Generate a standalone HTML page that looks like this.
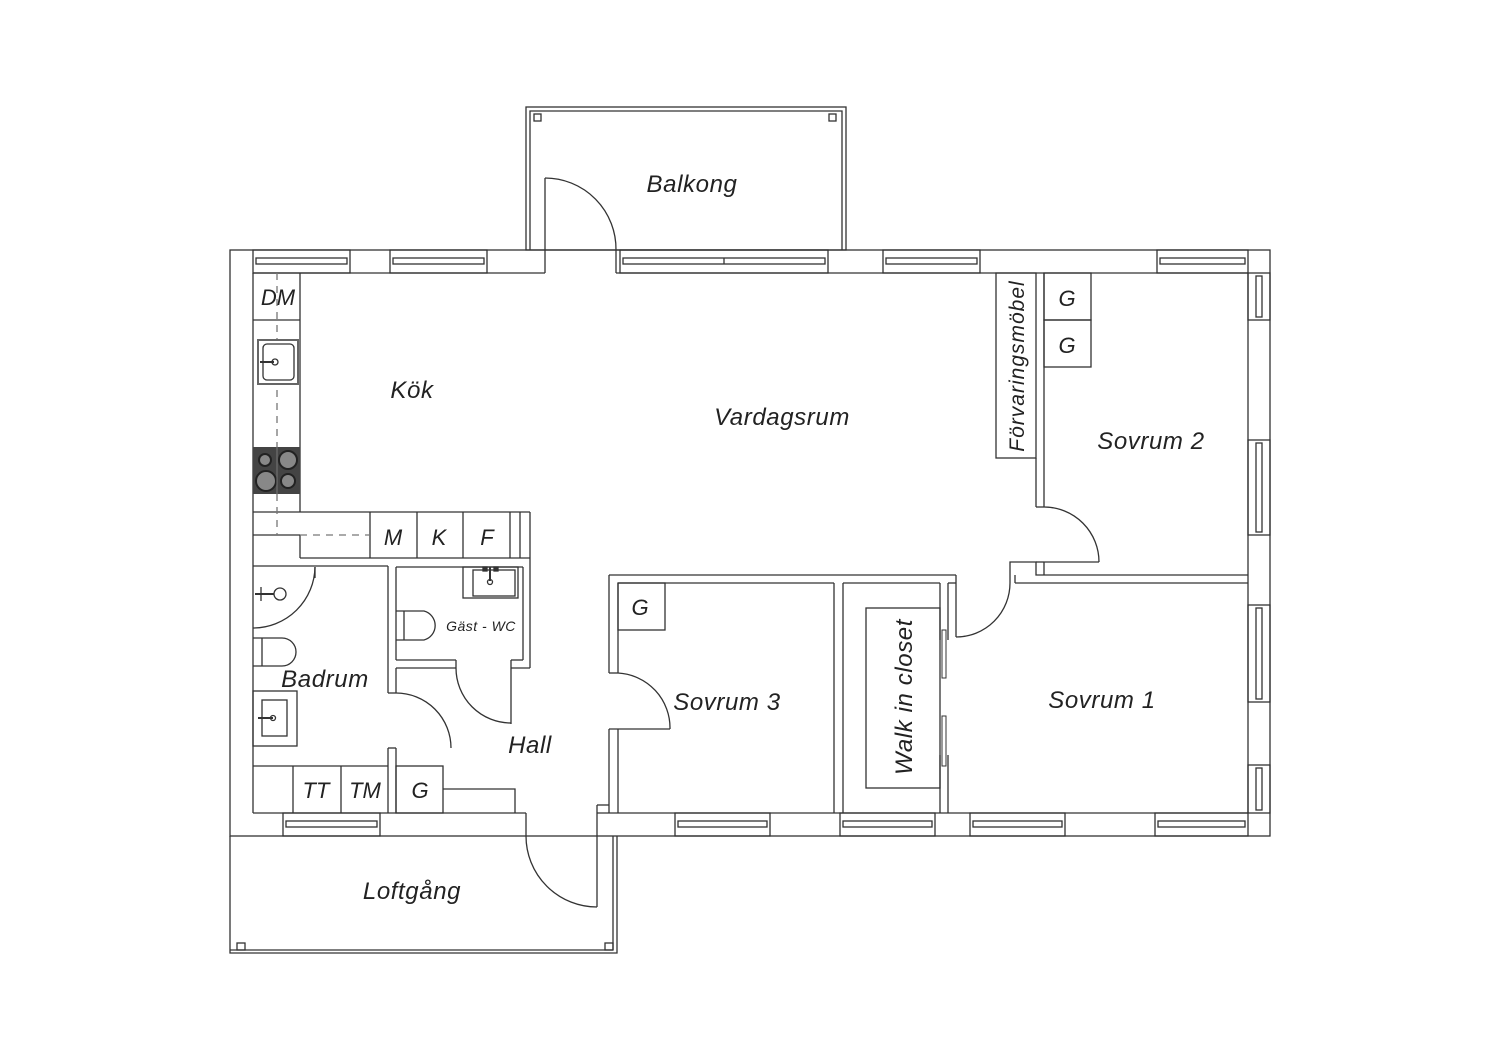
<!DOCTYPE html>
<html><head><meta charset="utf-8"><style>
html,body{margin:0;padding:0;background:#fff}
svg{display:block}
text{font-family:"Liberation Sans",sans-serif;font-style:italic;fill:#222}
</style></head><body>
<svg width="1500" height="1060" viewBox="0 0 1500 1060" xmlns="http://www.w3.org/2000/svg">
<g fill="none" stroke="#333" stroke-width="1.3">
<rect x="526" y="107" width="320" height="143"/>
<polyline points="530,250 530,111 842,111 842,250"/>
<rect x="534" y="114" width="7" height="7"/>
<rect x="829" y="114" width="7" height="7"/>
<rect x="230" y="250" width="1040" height="586"/>
<line x1="253" y1="273" x2="545" y2="273"/>
<line x1="616" y1="273" x2="1248" y2="273"/>
<line x1="253" y1="273" x2="253" y2="813"/>
<line x1="1248" y1="273" x2="1248" y2="813"/>
<line x1="253" y1="813" x2="526" y2="813"/>
<line x1="597" y1="813" x2="1248" y2="813"/>
<line x1="545" y1="178" x2="545" y2="273"/>
<path d="M545,178 A71,71 0 0 1 616,250"/>
<line x1="616" y1="250" x2="616" y2="273"/>
<line x1="526" y1="813" x2="526" y2="836"/>
<line x1="597" y1="813" x2="597" y2="907"/>
<path d="M526,836 A71,71 0 0 0 597,907"/>
<polyline points="230,836 230,953 617,953 617,836"/>
<line x1="613" y1="836" x2="613" y2="950"/>
<line x1="230" y1="950" x2="613" y2="950"/>
<rect x="237" y="943" width="8" height="7"/>
<rect x="605" y="943" width="8" height="7"/>
<g>
<rect x="253" y="250" width="97" height="23"/><rect x="256" y="258" width="91" height="6"/>
<rect x="390" y="250" width="97" height="23"/><rect x="393" y="258" width="91" height="6"/>
<rect x="620" y="250" width="208" height="23"/><rect x="623" y="258" width="202" height="6"/><line x1="724" y1="258" x2="724" y2="264"/>
<rect x="883" y="250" width="97" height="23"/><rect x="886" y="258" width="91" height="6"/>
<rect x="1157" y="250" width="91" height="23"/><rect x="1160" y="258" width="85" height="6"/>
</g>
<rect x="1248" y="273" width="22" height="47"/><rect x="1256" y="276" width="6" height="41"/>
<rect x="1248" y="440" width="22" height="95"/><rect x="1256" y="443" width="6" height="89"/>
<rect x="1248" y="605" width="22" height="97"/><rect x="1256" y="608" width="6" height="91"/>
<rect x="1248" y="765" width="22" height="48"/><rect x="1256" y="768" width="6" height="42"/>
<rect x="283" y="813" width="97" height="23"/><rect x="286" y="821" width="91" height="6"/>
<rect x="675" y="813" width="95" height="23"/><rect x="678" y="821" width="89" height="6"/>
<rect x="840" y="813" width="95" height="23"/><rect x="843" y="821" width="89" height="6"/>
<rect x="970" y="813" width="95" height="23"/><rect x="973" y="821" width="89" height="6"/>
<rect x="1155" y="813" width="93" height="23"/><rect x="1158" y="821" width="87" height="6"/>
<line x1="300" y1="273" x2="300" y2="512"/>
<line x1="253" y1="320" x2="300" y2="320"/>
<line x1="253" y1="512" x2="530" y2="512"/>
<line x1="253" y1="535" x2="300" y2="535"/>
<line x1="300" y1="535" x2="300" y2="558"/>
<line x1="300" y1="558" x2="530" y2="558"/>
<line x1="370" y1="512" x2="370" y2="558"/>
<line x1="417" y1="512" x2="417" y2="558"/>
<line x1="463" y1="512" x2="463" y2="558"/>
<line x1="510" y1="512" x2="510" y2="558"/>
<line x1="520" y1="512" x2="520" y2="558"/>
<line x1="530" y1="512" x2="530" y2="668"/>
<g stroke-dasharray="7,6" stroke="#777"><line x1="277" y1="273" x2="277" y2="535"/><line x1="300" y1="535" x2="370" y2="535"/></g>
<rect x="258" y="340" width="40" height="44" fill="#fff" stroke="#666" stroke-width="2"/>
<rect x="263" y="344" width="31" height="36" rx="4"/>
<line x1="260" y1="362" x2="274" y2="362" stroke-width="2"/><circle cx="275" cy="362" r="3"/>
</g>
<rect x="253" y="447" width="47" height="47" fill="#444"/>
<g fill="#888" stroke="#222" stroke-width="2">
<circle cx="265" cy="460" r="6"/><circle cx="288" cy="460" r="9"/>
<circle cx="266" cy="481" r="10"/><circle cx="288" cy="481" r="7"/>
</g>
<line x1="277" y1="447" x2="277" y2="494" stroke="#777" stroke-width="1"/>
<g fill="none" stroke="#333" stroke-width="1.3">
<line x1="253" y1="566" x2="388" y2="566"/>
<line x1="388" y1="566" x2="388" y2="693"/>
<line x1="388" y1="693" x2="396" y2="693"/>
<line x1="388" y1="748" x2="396" y2="748"/>
<line x1="388" y1="748" x2="388" y2="813"/>
<line x1="396" y1="748" x2="396" y2="813"/>
<path d="M396,693 A55,55 0 0 1 451,748"/>
<line x1="396" y1="693" x2="396" y2="668"/>
<path d="M315,567 A62,62 0 0 1 253,628"/>
<line x1="315" y1="567" x2="315" y2="578"/>
<circle cx="280" cy="594" r="6"/>
<line x1="255" y1="594" x2="274" y2="594" stroke-width="2"/>
<line x1="261" y1="587" x2="261" y2="601"/>
<path d="M253,638 L282,638 A14,14 0 0 1 282,666 L253,666"/>
<line x1="262" y1="638" x2="262" y2="666"/>
<rect x="253" y="691" width="44" height="55"/>
<rect x="262" y="700" width="25" height="36"/>
<line x1="258" y1="718" x2="273" y2="718" stroke-width="2"/><circle cx="273" cy="718" r="2.5"/>
<line x1="253" y1="766" x2="388" y2="766"/>
<line x1="293" y1="766" x2="293" y2="813"/>
<line x1="341" y1="766" x2="341" y2="813"/>
<line x1="396" y1="567" x2="523" y2="567"/>
<line x1="396" y1="567" x2="396" y2="660"/>
<line x1="396" y1="660" x2="456" y2="660"/>
<line x1="396" y1="668" x2="456" y2="668"/>
<line x1="456" y1="660" x2="456" y2="668"/>
<line x1="523" y1="567" x2="523" y2="660"/>
<line x1="511" y1="660" x2="523" y2="660"/>
<line x1="511" y1="660" x2="511" y2="724"/>
<line x1="511" y1="668" x2="530" y2="668"/>
<path d="M456,668 A55,55 0 0 0 511,723"/>
<path d="M396,611 L424,611 A15,15 0 0 1 424,640 L396,640"/>
<line x1="404" y1="611" x2="404" y2="640"/>
<rect x="463" y="567" width="55" height="31"/>
<rect x="473" y="570" width="42" height="26"/>
<line x1="490" y1="567" x2="490" y2="581" stroke-width="2"/><circle cx="490" cy="582" r="2.5"/>
<rect x="483" y="567" width="4" height="4" fill="#333"/><rect x="494" y="567" width="4" height="4" fill="#333"/>
<rect x="396" y="766" width="47" height="47"/>
<polyline points="443,789 515,789 515,813"/>
<line x1="609" y1="575" x2="956" y2="575"/>
<line x1="609" y1="575" x2="609" y2="673"/>
<line x1="618" y1="583" x2="618" y2="673"/>
<line x1="609" y1="673" x2="618" y2="673"/>
<line x1="609" y1="729" x2="670" y2="729"/>
<line x1="609" y1="729" x2="609" y2="813"/>
<line x1="618" y1="729" x2="618" y2="813"/>
<path d="M618,673 A55,55 0 0 1 670,729"/>
<line x1="597" y1="805" x2="609" y2="805"/>
<line x1="597" y1="805" x2="597" y2="813"/>
<line x1="618" y1="583" x2="834" y2="583"/>
<rect x="618" y="583" width="47" height="47"/>
<line x1="834" y1="583" x2="834" y2="813"/>
<line x1="843" y1="583" x2="940" y2="583"/>
<line x1="843" y1="583" x2="843" y2="813"/>
<rect x="866" y="608" width="74" height="180"/>
<line x1="940" y1="583" x2="940" y2="640"/>
<line x1="940" y1="755" x2="940" y2="813"/>
<line x1="948" y1="583" x2="948" y2="640"/>
<line x1="948" y1="755" x2="948" y2="813"/>
<rect x="942" y="630" width="4" height="48" stroke-width="1"/>
<rect x="942" y="716" width="4" height="50" stroke-width="1"/>
<line x1="956" y1="575" x2="956" y2="637"/>
<line x1="948" y1="583" x2="956" y2="583"/>
<path d="M956,637 A54,54 0 0 0 1010,583"/>
<polyline points="1010,583 1010,562 1036,562 1036,575 1248,575"/>
<line x1="1015" y1="583" x2="1248" y2="583"/>
<line x1="1015" y1="575" x2="1015" y2="583"/>
<line x1="1044" y1="562" x2="1044" y2="575"/>
<line x1="1036" y1="562" x2="1044" y2="562"/>
<line x1="1036" y1="458" x2="1036" y2="507"/>
<line x1="1044" y1="273" x2="1044" y2="507"/>
<line x1="1036" y1="507" x2="1044" y2="507"/>
<path d="M1044,507 A55,55 0 0 1 1099,562"/>
<line x1="1044" y1="562" x2="1099" y2="562"/>
<rect x="996" y="273" width="40" height="185"/>
<rect x="1044" y="273" width="47" height="47"/>
<rect x="1044" y="320" width="47" height="47"/>
</g>
<g font-size="24" text-anchor="middle" letter-spacing="0.6">
<text x="692" y="192">Balkong</text>
<text x="412" y="398">Kök</text>
<text x="782" y="425">Vardagsrum</text>
<text x="1151" y="449">Sovrum 2</text>
<text x="325" y="687">Badrum</text>
<text x="530" y="753">Hall</text>
<text x="412" y="899">Loftgång</text>
<text x="727" y="710">Sovrum 3</text>
<text x="1102" y="708">Sovrum 1</text>
<text transform="translate(912,697) rotate(-90)">Walk in closet</text>
</g>
<g font-size="22" text-anchor="middle">
<text x="278" y="305">DM</text>
<text x="393" y="545">M</text>
<text x="439" y="545">K</text>
<text x="487" y="545">F</text>
<text x="316" y="798">TT</text>
<text x="365" y="798">TM</text>
<text x="420" y="798">G</text>
<text x="640" y="615">G</text>
<text x="1067" y="306">G</text>
<text x="1067" y="353">G</text>
</g>
<text x="1024" y="366" font-size="21" letter-spacing="1" text-anchor="middle" transform="rotate(-90 1024 366)">Förvaringsmöbel</text>
<text x="481" y="631" font-size="14" letter-spacing="0.5" text-anchor="middle">Gäst - WC</text>
</svg>
</body></html>
